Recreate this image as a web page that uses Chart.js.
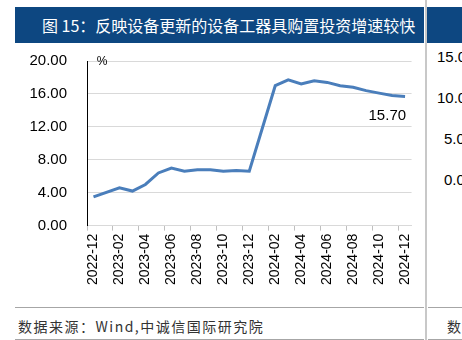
<!DOCTYPE html>
<html>
<head>
<meta charset="utf-8">
<script src="https://cdn.jsdelivr.net/npm/chart.js@4"></script>
<style>
  body { margin: 0; width: 462px; height: 340px; overflow: hidden; background: #fff; position: relative; font-family: "Noto Sans CJK SC", sans-serif; }
  .bar { position: absolute; top: 7px; height: 36px; background: #0d4781; color: #fff; font-size: 16px; line-height: 36px; white-space: nowrap; overflow: hidden; }
  .sep { position: absolute; left: 425px; top: 0; width: 2px; height: 340px; background: #c8c8c8; }
  .hline { position: absolute; height: 1px; background: #a6a6a6; }
  .src { position: absolute; top: 316px; font-size: 14px; color: #333; letter-spacing: 1.5px; white-space: nowrap; }
  .side { position: absolute; font-family: "Liberation Sans", sans-serif; font-size: 15px; color: #000; white-space: nowrap; }
  #wrap { position: absolute; left: 0; top: 32px; width: 425px; height: 256px; }
</style>
</head>
<body>
<div class="bar" style="left:15px;width:409px;padding-left:27px;box-sizing:border-box;">图 15：反映设备更新的设备工器具购置投资增速较快</div>
<div class="bar" style="left:427px;width:35px;"></div>
<div class="sep"></div>
<div class="hline" style="left:15px;width:409px;top:307px;"></div>
<div class="hline" style="left:15px;width:409px;top:339px;"></div>
<div class="hline" style="left:428px;width:34px;top:307px;"></div>
<div class="hline" style="left:428px;width:34px;top:339px;"></div>
<div class="src" style="left:18px;">数据来源：Wind,中诚信国际研究院</div>
<div class="src" style="left:447px;">数据</div>
<div class="side" style="top:48px;left:437px;">15.00</div>
<div class="side" style="top:89px;left:437px;">10.00</div>
<div class="side" style="top:130px;left:444px;">5.00</div>
<div class="side" style="top:171px;left:444px;">0.00</div>
<div id="wrap"><canvas id="grafico"></canvas></div>
<script>
// 设备工器具购置投资累计同比（%），1月与2月合并公布，1月留空
const meses = ['2022-12', '2023-01', '2023-02', '2023-03', '2023-04', '2023-05', '2023-06',
  '2023-07', '2023-08', '2023-09', '2023-10', '2023-11', '2023-12', '2024-01', '2024-02',
  '2024-03', '2024-04', '2024-05', '2024-06', '2024-07', '2024-08', '2024-09', '2024-10',
  '2024-11', '2024-12'];
const valores = [3.5, null, 4.6, 4.2, 5.0, 6.4, 7.0, 6.6, 6.8, 6.8, 6.6, 6.7, 6.6, null, 17.0,
  17.7, 17.2, 17.6, 17.4, 17.0, 16.8, 16.4, 16.1, 15.8, 15.7];
const yTicks = [0, 4, 8, 12, 16, 20];

const rotulos = {
  id: 'rotulos',
  afterDraw(chart) {
    const ctx = chart.ctx;
    const area = chart.chartArea;
    ctx.save();
    ctx.fillStyle = '#000';
    ctx.font = '12px "Liberation Sans"';
    ctx.textAlign = 'center';
    ctx.textBaseline = 'middle';
    ctx.fillText('%', area.left + 15, area.top + 1);
    // 最后一个点的数值标签
    const meta = chart.getDatasetMeta(0);
    const ult = meta.data[meta.data.length - 1];
    ctx.font = '15px "Liberation Sans"';
    ctx.textAlign = 'right';
    ctx.fillText(valores[valores.length - 1].toFixed(2), ult.x + 1, ult.y + 19);
    ctx.restore();
  }
};

new Chart('grafico', {
  type: 'line',
  data: {
    labels: meses,
    datasets: [{
      data: valores,
      borderColor: '#4a7ebb',
      borderWidth: 3,
      pointRadius: 0,
      tension: 0,
      spanGaps: true
    }]
  },
  options: {
    responsive: true,
    maintainAspectRatio: false,
    animation: false,
    layout: { padding: { top: 4, right: 7, left: 0, bottom: 0 } },
    plugins: { legend: { display: false }, tooltip: { enabled: false } },
    scales: {
      x: {
        offset: true,
        grid: {
          drawOnChartArea: false,
          offset: true,
          tickLength: 5,
          color: c => (c.index % 2 === 0 ? '#bfbfbf' : 'rgba(0,0,0,0)')
        },
        border: { color: '#d9d9d9' },
        ticks: {
          autoSkip: false,
          maxRotation: 90,
          minRotation: 90,
          padding: 3,
          color: '#000',
          font: { family: 'Liberation Sans', size: 14 },
          callback: (v, i) => (i % 2 === 0 ? meses[i] : '')
        }
      },
      y: {
        min: 0,
        max: 20,
        afterBuildTicks: s => { s.ticks = yTicks.map(v => ({ value: v })); },
        afterFit: s => { s.width = 87; },
        grid: { color: '#d9d9d9', drawTicks: false },
        border: { color: '#000', width: 1 },
        ticks: {
          padding: 20,
          color: '#000',
          font: { family: 'Liberation Sans', size: 15 },
          callback: v => v.toFixed(2)
        }
      }
    }
  },
  plugins: [rotulos]
});
</script>
</body>
</html>
